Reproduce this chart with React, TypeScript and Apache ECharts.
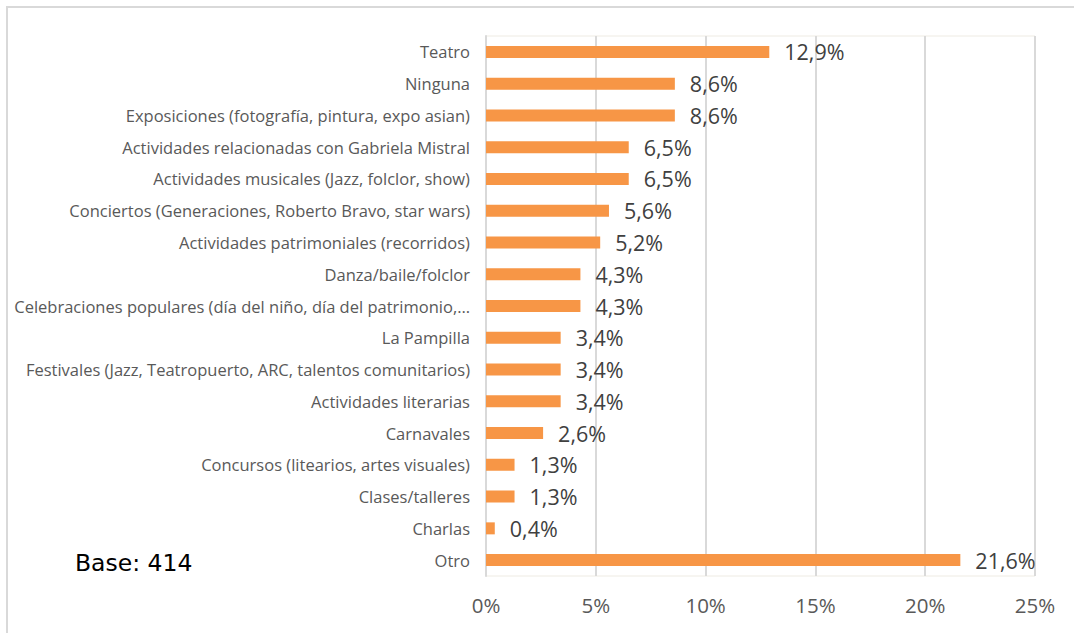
import React, { useEffect, useRef } from "react";
import * as echarts from "echarts";

const categories = [
  "Teatro",
  "Ninguna",
  "Exposiciones (fotografía, pintura, expo asian)",
  "Actividades relacionadas con Gabriela Mistral",
  "Actividades musicales (Jazz, folclor, show)",
  "Conciertos (Generaciones, Roberto Bravo, star wars)",
  "Actividades patrimoniales (recorridos)",
  "Danza/baile/folclor",
  "Celebraciones populares (día del niño, día del patrimonio,…",
  "La Pampilla",
  "Festivales (Jazz, Teatropuerto, ARC, talentos comunitarios)",
  "Actividades literarias",
  "Carnavales",
  "Concursos (litearios, artes visuales)",
  "Clases/talleres",
  "Charlas",
  "Otro",
];
const values = [12.9, 8.6, 8.6, 6.5, 6.5, 5.6, 5.2, 4.3, 4.3, 3.4, 3.4, 3.4, 2.6, 1.3, 1.3, 0.4, 21.6];
const xTicks = [0, 5, 10, 15, 20, 25];
const baseText = "Base: 414";

const FONT = "'Open Sans', 'Noto Sans', sans-serif";

export default function App() {
  const ref = useRef<HTMLDivElement>(null);
  useEffect(() => {
    if (!ref.current) return;
    const chart = echarts.init(ref.current, null, { renderer: "svg" });
    chart.setOption({
      animation: false,
      backgroundColor: "#ffffff",
      grid: { left: 486, right: 39, top: 36, bottom: 57, show: true, borderColor: "#eeebe3", borderWidth: 1 },
      xAxis: {
        type: "value",
        min: xTicks[0],
        max: xTicks[xTicks.length - 1],
        interval: 5,
        axisLine: { show: false },
        axisTick: { show: false },
        splitLine: { show: true, lineStyle: { color: "#d9d9d9", width: 2 } },
        axisLabel: {
          formatter: (v: number) => v + "%",
          fontFamily: FONT,
          fontSize: 20.5,
          color: "#595959",
          margin: 18,
        },
      },
      yAxis: {
        type: "category",
        data: categories,
        inverse: true,
        axisLine: { show: true, lineStyle: { color: "#d9d9d9", width: 2 } },
        axisTick: { show: false },
        axisLabel: {
          fontFamily: FONT,
          fontSize: 16.5,
          color: "#595959",
          margin: 16,
        },
      },
      series: [
        {
          type: "bar",
          data: values,
          barWidth: 12,
          itemStyle: { color: "#F79646" },
          label: {
            show: true,
            position: "right",
            distance: 15,
            formatter: (p: any) => String(p.value).replace(".", ",") + "%",
            fontFamily: FONT,
            fontSize: 21.5,
            color: "#404040",
          },
        },
      ],
      graphic: [
        {
          type: "rect",
          shape: { x: 7, y: 7, width: 1100, height: 700 },
          style: { fill: "none", stroke: "#d9d9d9", lineWidth: 2 },
          silent: true,
        },
        {
          type: "text",
          left: 75,
          top: 551,
          style: { text: baseText, font: `23.5px 'DejaVu Sans', sans-serif`, fill: "#000000" },
        },
      ],
    });
    return () => chart.dispose();
  }, []);
  return <div ref={ref} style={{ position: "fixed", left: 0, top: 0, width: 1074, height: 633 }} />;
}
